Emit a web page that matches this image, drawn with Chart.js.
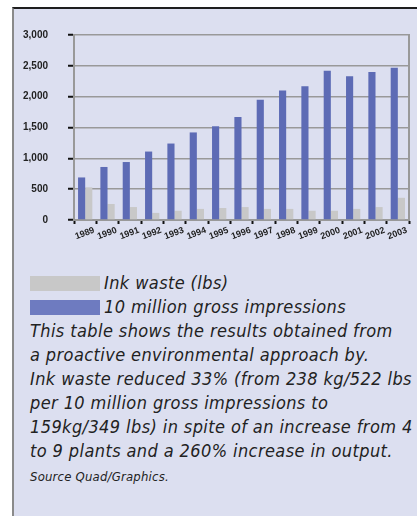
<!DOCTYPE html>
<html>
<head>
<meta charset="utf-8">
<script src="https://cdn.jsdelivr.net/npm/chart.js@4"></script>
<style>
  html, body { margin: 0; padding: 0; background: #fff; }
  body { width: 417px; height: 516px; position: relative; overflow: hidden; }
  .panel {
    position: absolute; left: 12px; top: 7px; right: 0; bottom: 0;
    background: #dcdff0;
    border-left: 2px solid #8a8a8a;
    border-top: 2px solid #1e1e1e;
    overflow: hidden;
  }
  .chart-box { position: absolute; left: -17px; top: 0; width: 422px; height: 237px; }
  .legend, .note {
    position: absolute; left: 16px;
    font-family: "Liberation Sans Narrow", "DejaVu Sans Condensed", sans-serif;
    font-style: italic; color: #222; letter-spacing: 0.4px;
  }
  .legend { top: 262px; font-size: 18px; line-height: 24px; }
  .legend .row { display: flex; align-items: center; }
  .legend .sw { width: 70px; height: 15px; margin-right: 4px; }
  .note { top: 310px; font-size: 18px; line-height: 24px; width: 395px; }
  .note .src { font-size: 13px; line-height: 22px; letter-spacing: 0.2px; }
</style>
</head>
<body>
<div class="panel">
  <div class="chart-box"><canvas id="c"></canvas></div>
  <div class="legend" id="legend"></div>
  <div class="note">
    This table shows the results obtained from<br>
    a proactive environmental approach by.<br>
    Ink waste reduced 33% (from 238 kg/522 lbs<br>
    per 10 million gross impressions to<br>
    159kg/349 lbs) in spite of an increase from 4<br>
    to 9 plants and a 260% increase in output.<br>
    <span class="src">Source Quad/Graphics.</span>
  </div>
</div>
<script>
// years on the x axis
const years = ['1989', '1990', '1991', '1992', '1993', '1994', '1995', '1996',
  '1997', '1998', '1999', '2000', '2001', '2002', '2003'];

// 10 million gross impressions (blue)
const impressions = [690, 860, 940, 1110, 1240, 1420, 1520, 1670,
  1950, 2100, 2170, 2420, 2330, 2400, 2470];

// ink waste in lbs (gray)
const inkWaste = [530, 260, 210, 115, 150, 180, 195, 210,
  180, 180, 150, 150, 180, 210, 360];

const yTicks = [0, 500, 1000, 1500, 2000, 2500, 3000];

const BLUE = '#5d6bb5';
const GRAY = '#c8c8c8';

// legend (gray first, like the print)
const legendItems = [
  { label: 'Ink waste (lbs)', color: GRAY },
  { label: '10 million gross impressions', color: '#6e7bc0' },
];
document.getElementById('legend').innerHTML = legendItems.map(it =>
  `<div class="row"><span class="sw" style="background:${it.color}"></span>${it.label}</div>`
).join('');

new Chart(document.getElementById('c'), {
  type: 'bar',
  data: {
    labels: years,
    datasets: [
      { label: '10 million gross impressions', data: impressions, backgroundColor: BLUE,
        categoryPercentage: 0.64, barPercentage: 1.0 },
      { label: 'Ink waste (lbs)', data: inkWaste, backgroundColor: GRAY,
        categoryPercentage: 0.64, barPercentage: 1.0 },
    ],
  },
  options: {
    responsive: true,
    maintainAspectRatio: false,
    animation: false,
    layout: { padding: { top: 26, right: 10, left: 6, bottom: 0 } },
    plugins: { legend: { display: false }, tooltip: { enabled: false } },
    scales: {
      x: {
        grid: { drawOnChartArea: false, drawTicks: true, tickLength: 4, tickColor: '#111', tickWidth: 2, offset: true },
        border: { color: '#999', width: 2 },
        ticks: {
          color: '#222', font: { family: 'Liberation Sans', size: 9, weight: 'bold' },
          minRotation: 20, maxRotation: 20, labelOffset: 9, padding: 1, autoSkip: false,
        },
      },
      y: {
        min: 0, max: 3000,
        afterBuildTicks: axis => { axis.ticks = yTicks.map(v => ({ value: v })); },
        grid: { color: '#999', lineWidth: 1.5, tickLength: 6, tickColor: '#111', tickWidth: 2 },
        border: { color: '#999', width: 2 },
        ticks: {
          color: '#222', padding: 20,
          font: { family: 'Liberation Sans', size: 10, weight: 'bold' },
          callback: v => v.toLocaleString('en-US'),
        },
      },
      y2: {
        position: 'right', min: 0, max: 3000,
        grid: { display: false, drawTicks: false },
        border: { color: '#999', width: 2 },
        ticks: { display: false },
      },
    },
  },
});
</script>
</body>
</html>
